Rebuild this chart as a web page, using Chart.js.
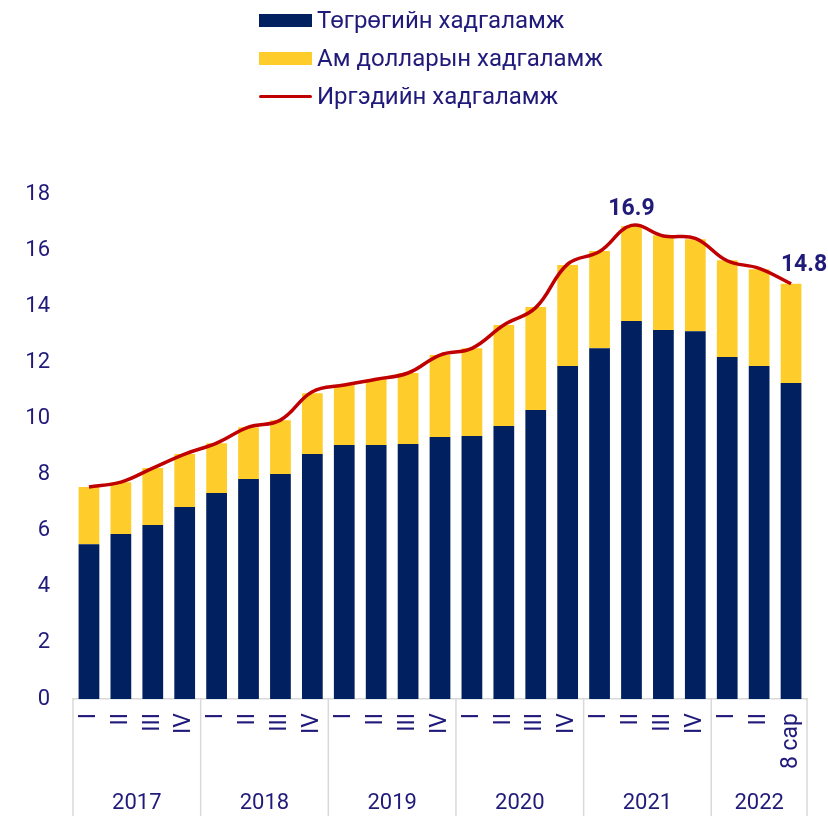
<!DOCTYPE html>
<html>
<head>
<meta charset="utf-8">
<script src="https://cdn.jsdelivr.net/npm/chart.js@4.4.1/dist/chart.umd.min.js"></script>
<style>
  body { margin: 0; background: #fff; }
  #wrap { position: relative; width: 828px; height: 816px; }
  #legend { position: absolute; left: 259px; top: 1px; font-family: Roboto, sans-serif; font-size: 24px; color: #201a7a; }
  .item { height: 38px; display: flex; align-items: center; }
  .swatch { width: 53px; height: 13px; margin-right: 5px; }
  .swatch.line { height: 3px; border-radius: 2px; }
</style>
</head>
<body>
<div id="wrap">
  <canvas id="myChart" width="828" height="816"></canvas>
  <div id="legend"></div>
</div>
<script>
// quarters on the x axis, years below them
const quarters = ["I", "II", "III", "IV", "I", "II", "III", "IV", "I", "II", "III", "IV",
  "I", "II", "III", "IV", "I", "II", "III", "IV", "I", "II", "8 сар"];
const years = ["2017", "2018", "2019", "2020", "2021", "2022"];
const quartersPerYear = [4, 4, 4, 4, 4, 3];

// deposits, trillion MNT
const mntDeposits = [5.52, 5.88, 6.2, 6.84, 7.34, 7.84, 8.02, 8.73, 9.05, 9.05, 9.09, 9.34,
  9.37, 9.73, 10.3, 11.87, 12.5, 13.47, 13.15, 13.11, 12.19, 11.87, 11.26];
const usdDeposits = [2.04, 1.85, 2.03, 1.89, 1.78, 1.85, 1.92, 2.17, 2.14, 2.35, 2.53, 2.92,
  3.13, 3.6, 3.67, 3.6, 3.47, 3.39, 3.38, 3.28, 3.45, 3.45, 3.54];
const totalDeposits = [7.56, 7.73, 8.23, 8.73, 9.12, 9.69, 9.94, 10.95, 11.19, 11.4, 11.62, 12.26,
  12.5, 13.33, 13.95, 15.5, 15.95, 16.88, 16.5, 16.42, 15.62, 15.35, 14.8];
const labelled = [17, 22];

const textColor = "#201a7a";
const fontFamily = "Roboto, sans-serif";

//year groups + separators under the axis
const yearAxis = {
  id: "yearAxis",
  afterDraw(chart) {
    const ctx = chart.ctx;
    const x = chart.scales.x;
    const w = (x.right - x.left) / quarters.length;
    const top = chart.chartArea.bottom;
    ctx.save();
    ctx.strokeStyle = "#d9d9d9";
    ctx.lineWidth = 1.5;
    ctx.fillStyle = textColor;
    ctx.font = "22px " + fontFamily;
    ctx.textAlign = "center";
    ctx.textBaseline = "middle";
    let start = 0;
    for (let i = 0; i < years.length; i++) {
      const end = start + quartersPerYear[i];
      const left = x.getPixelForValue(start) - w / 2;
      const right = x.getPixelForValue(end - 1) + w / 2;
      ctx.beginPath();
      ctx.moveTo(left, top);
      ctx.lineTo(left, chart.height);
      ctx.stroke();
      if (i == years.length - 1) {
        ctx.beginPath();
        ctx.moveTo(right, top);
        ctx.lineTo(right, chart.height);
        ctx.stroke();
      }
      ctx.fillText(years[i], (left + right) / 2, 803);
      start = end;
    }
    ctx.restore();
  },
};

// value labels on the line
const lineLabels = {
  id: "lineLabels",
  afterDatasetsDraw(chart) {
    const ctx = chart.ctx;
    const meta = chart.getDatasetMeta(2);
    ctx.save();
    ctx.fillStyle = textColor;
    ctx.font = "bold 23px " + fontFamily;
    ctx.textAlign = "center";
    ctx.textBaseline = "middle";
    labelled.forEach((i, n) => {
      const p = meta.data[i];
      const dx = n == 0 ? 0 : 13;
      const dy = n == 0 ? -16 : -19;
      ctx.fillText(totalDeposits[i].toFixed(1), p.x + dx, p.y + dy);
    });
    ctx.restore();
  },
};

const data = {
  labels: quarters,
  datasets: [
    {
      type: "bar",
      label: "Төгрөгийн хадгаламж",
      data: mntDeposits,
      backgroundColor: "#002060",
      stack: "dep",
      order: 2,
    },
    {
      type: "bar",
      label: "Ам долларын хадгаламж",
      data: usdDeposits,
      backgroundColor: "#ffcd2b",
      stack: "dep",
      order: 2,
    },
    {
      type: "line",
      label: "Иргэдийн хадгаламж",
      data: totalDeposits,
      borderColor: "#c00000",
      borderWidth: 3.5,
      tension: 0.4,
      pointRadius: 0,
      stack: "line",
      order: 1,
    },
  ],
};

const config = {
  data: data,
  options: {
    responsive: false,
    animation: false,
    layout: {
      padding: { top: 194, right: 21, left: 0, bottom: 0 },
    },
    datasets: {
      bar: { barPercentage: 0.65, categoryPercentage: 1 },
    },
    scales: {
      x: {
        stacked: true,
        grid: { display: false, drawTicks: false },
        border: { display: true, color: "#d9d9d9", width: 1.5 },
        ticks: {
          color: textColor,
          font: { size: 23, family: fontFamily },
          minRotation: 90,
          maxRotation: 90,
          padding: 14,
          autoSkip: false,
        },
        afterFit(scale) {
          scale.height = 117;
          scale.paddingLeft = 0;
          scale.paddingRight = 0;
        },
      },
      y: {
        stacked: true,
        min: 0,
        max: 18,
        grid: { display: false, drawTicks: false },
        border: { display: false },
        ticks: {
          stepSize: 2,
          color: textColor,
          font: { size: 22, family: fontFamily },
          padding: 23,
        },
        afterFit(scale) {
          scale.width = 73;
        },
      },
    },
    plugins: {
      legend: { display: false },
      tooltip: { enabled: false },
    },
  },
  plugins: [yearAxis, lineLabels],
};

const myChart = new Chart(document.getElementById("myChart"), config);

// html legend from the datasets
const legendEl = document.getElementById("legend");
myChart.data.datasets.forEach((ds) => {
  const item = document.createElement("div");
  item.className = "item";
  const sw = document.createElement("div");
  sw.className = ds.type == "line" ? "swatch line" : "swatch";
  sw.style.background = ds.type == "line" ? ds.borderColor : ds.backgroundColor;
  item.appendChild(sw);
  item.appendChild(document.createTextNode(ds.label));
  legendEl.appendChild(item);
});
</script>
</body>
</html>
